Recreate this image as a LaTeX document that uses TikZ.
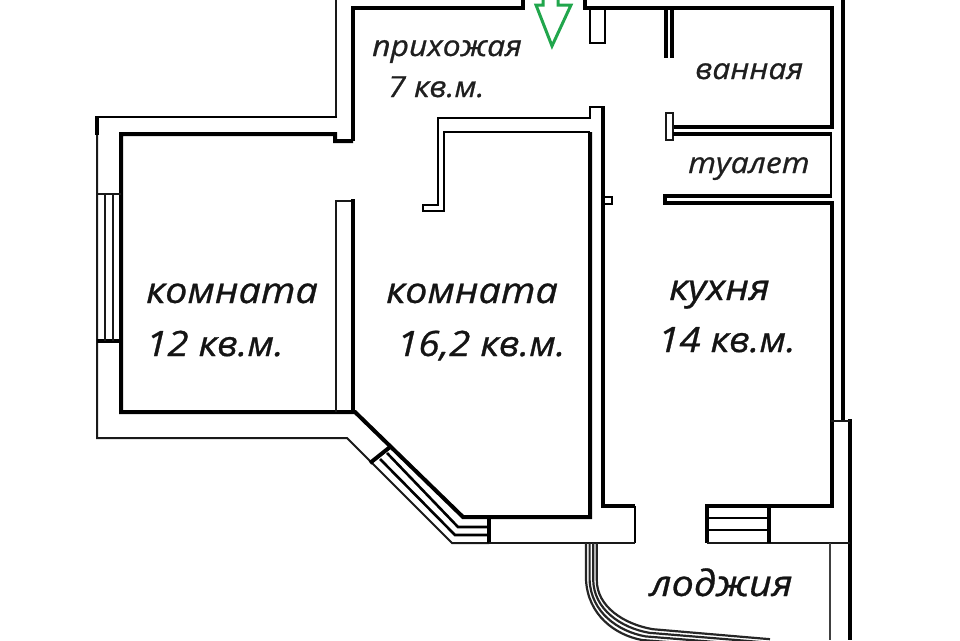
\documentclass[tikz,border=0pt]{standalone}
\usepackage{fontspec}
\setmainfont{Open Sans}[FakeStretch=1.1,ItalicFeatures={FakeBold=0.8}]
\definecolor{doorgreen}{rgb}{0.13,0.65,0.30}
\tikzset{
  thick wall/.style={draw=black,line width=4pt,line join=miter},
  mid wall/.style={draw=black,line width=2.6pt,line join=miter},
  thin wall/.style={draw=black!90,line width=2pt,line join=miter},
  room/.style={font=\itshape\fontsize{36}{40}\selectfont,inner sep=0pt,text=black!92,anchor=base west},
  room area/.style={font=\itshape\fontsize{35}{40}\selectfont,inner sep=0pt,text=black!92,anchor=base west},
  small room/.style={font=\itshape\fontsize{29}{32}\selectfont,inner sep=0pt,text=black!88,anchor=base west},
  door arrow/.style={draw=doorgreen,line width=3pt,line join=miter}
}
\begin{document}
\begin{tikzpicture}[x=1pt,y=-1pt]
\useasboundingbox (0,0) rectangle (960,640);
% hall
\draw[thin wall,line width=2.4pt] (336,0) -- (336,118);
\draw[thick wall] (353,141) -- (353,8) -- (523,8) -- (523,0);
\draw[thick wall] (585,0) -- (585,8) -- (832,8) -- (832,127) -- (672,127);
\draw[mid wall] (590,8) -- (590,43) -- (605,43) -- (605,8);
% left room
\draw[mid wall] (337,117) -- (97,117);
\draw[thick wall] (97,116) -- (97,135);
\draw[thin wall] (97,135) -- (97,438) -- (347,438) -- (452,543) -- (489,543);
\draw[thick wall] (353,141) -- (335,141) -- (335,134) -- (121,134) -- (121,412) -- (355,412) -- (463,517) -- (590,517) -- (590,132);
\draw[thin wall] (97,194) -- (121,194);
\draw[thick wall] (97,341) -- (121,341);
\draw[thin wall] (105,194) -- (105,341) (113,194) -- (113,341);
\draw[thin wall,line width=2.4pt] (336,412) -- (336,201) -- (353,201);
\draw[thick wall] (353,199) -- (353,412);
% diagonal window
\draw[thick wall] (390,447) -- (370,463);
\draw[mid wall] (387,453) -- (458,527) -- (489,527);
\draw[mid wall] (380,459) -- (455,535) -- (489,535);
\draw[thick wall] (489,517) -- (489,543);
% inner wall of big room
\draw[mid wall] (590,132) -- (444,132) -- (444,211) -- (423,211) -- (423,205) -- (438,205) -- (438,118) -- (590,118) -- (590,107) -- (603,107);
\draw[thick wall] (603,106) -- (603,506) -- (635,506);
\draw[mid wall] (635,506) -- (635,543);
\draw[thin wall] (489,543) -- (635,543);
\draw[mid wall] (604,197) -- (612,197) -- (612,204) -- (604,204);
% bathroom
\draw[thick wall] (666,8) -- (666,58);
\draw[thick wall] (672,8) -- (672,58);
\draw[thin wall] (666,113) rectangle (673,140);
\draw[thick wall] (673,134) -- (832,134);
\draw[mid wall] (831,134) -- (831,196);
\draw[thick wall] (832,196) -- (665,196);
\draw[thick wall] (664,203) -- (832,203) -- (832,506) -- (707,506) -- (707,543);
\draw[thick wall] (665,194) -- (665,205);
\draw[thick wall] (843,0) -- (843,421);
\draw[thick wall] (850,419) -- (850,640);
\draw[thin wall] (831,421) -- (850,421);
% loggia wall
\draw[thin wall] (707,543) -- (850,543);
\draw[mid wall] (707,518) -- (769,518) (707,530) -- (769,530);
\draw[thick wall] (769,506) -- (769,543);
\draw[thin wall,line width=2.4pt,black!75] (830,543) -- (830,640);
% loggia curve
\foreach \d in {0,3.6,7.2,10.8}{
  \draw[draw=black!85,line width=2.2pt] (586+\d,543) -- (586+\d,580) .. controls (588+\d*0.8,615-\d*0.8) and (615+\d*0.8,635-\d) .. (642+\d,640-\d) -- (770,650-\d);
}
% door arrow
\draw[door arrow] (543,-2) -- (543,5) -- (536,5) -- (552,46) -- (571,5) -- (558,5) -- (558,-2);
% labels
\node[small room] (hall) at (372,56) {прихожая};
\node[small room] (hallarea) at (388,97) {7 кв.м.};
\node[small room] (bath) at (695,79) {ванная};
\node[small room] (wc) at (688,173) {туалет};
\node[room] (r1) at (146,303) {комната};
\node[room area] (r1a) at (146,356) {12 кв.м.};
\node[room] (r2) at (386,303) {комната};
\node[room area] (r2a) at (397,356) {16,2 кв.м.};
\node[room] (kit) at (669,300) {кухня};
\node[room area] (kita) at (658,352) {14 кв.м.};
\node[room] (log) at (650,596) {лоджия};
\end{tikzpicture}
\end{document}
